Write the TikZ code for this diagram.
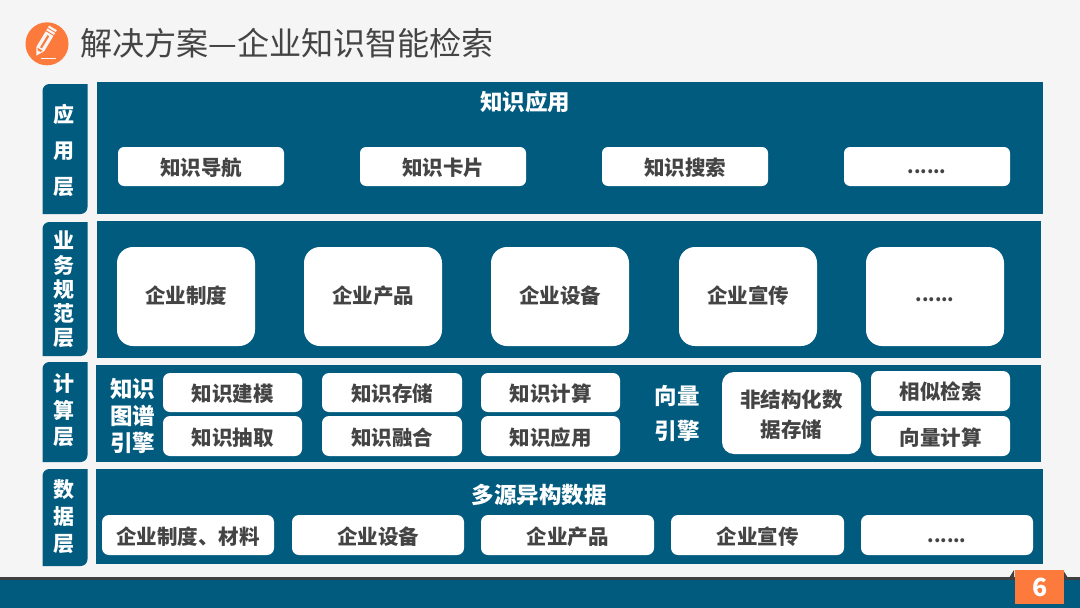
\documentclass[tikz,border=0pt]{standalone}
\usepackage{fontspec}
\setmainfont{Noto Sans CJK SC}
\definecolor{bluefill}{HTML}{005B7F}
\definecolor{pagebg}{HTML}{F5F5F6}
\definecolor{inkdark}{HTML}{444444}
\definecolor{orangefill}{HTML}{FB7A3C}
\definecolor{shadowdark}{HTML}{3F3F3F}
\newcommand{\sidetab}[4]{\fill[bluefill] (#1,#4) -- (#1,#2+7) .. controls (#1,#2+3) and (#1+3,#2) .. (#1+7,#2) -- (#3,#2) -- (#3,#4-7) .. controls (#3,#4-3) and (#3-3,#4) .. (#3-7,#4) -- cycle;}
\newcommand{\dotrow}{{\fontsize{18.5}{20}\selectfont ......}}
\tikzset{
  x=1pt,y=-1pt,
  panel/.style={fill=bluefill,draw=none},
  wbox/.style n args={3}{fill=white,draw=none,rounded corners=#3pt,minimum width=#1pt,minimum height=#2pt,inner sep=0pt,text=inkdark,font=\fontsize{20.5}{24}\selectfont\bfseries},
  smallbox/.style n args={2}{wbox={#1}{#2}{7}},
  drop/.style={text height=#1pt,text depth=8pt},
  lefttext/.style={text=white,font=\fontsize{22.5}{26}\selectfont\bfseries,inner sep=0pt},
  tablabel/.style={text=white,font=\fontsize{21}{24}\selectfont\bfseries,inner sep=0pt},
}
\begin{document}
\begin{tikzpicture}
\useasboundingbox (0,0) rectangle (1080,608);
\fill[pagebg] (0,0) rectangle (1080,608);
% footer
\fill[shadowdark] (0,577) rectangle (1080,581);
\fill[bluefill] (0,580) rectangle (1080,608);
\fill[shadowdark] (1009,578) -- (1014,570) -- (1014,578) -- cycle;
\fill[shadowdark] (1068,578) -- (1063,570) -- (1063,578) -- cycle;
\node[fill=orangefill,minimum width=49pt,minimum height=34pt,inner sep=0pt,text=white,font=\fontsize{25}{28}\selectfont\bfseries,drop=26] (pagenum) at (1039,587) {\hspace{2pt}6};
% title icon
\fill[orangefill] (47,43.8) circle[radius=21.5pt];
\begin{scope}[shift={(44.5,42)},rotate=-31]
  \fill[pagebg] (-4.5,-16.5) rectangle (4.5,-14.3);
  \fill[pagebg] (-4.5,-13.2) rectangle (4.5,-11);
  \fill[pagebg,even odd rule] (-4.5,-9.8) -- (4.5,-9.8) -- (4.5,8) -- (0,16) -- (-4.5,8) -- cycle
     (-1.2,-7.6) rectangle (1.2,7);
  \fill[orangefill] (-2.8,8.5) -- (2.8,8.5) -- (1.6,10.6) -- (-1.6,10.6) -- cycle;
\end{scope}
\fill[pagebg] (41,57.5) rectangle (56,58.6);
\node[anchor=west,inner sep=0pt,text=inkdark,font=\fontsize{32.1}{36}\selectfont] (title) at (80,43.5) {解决方案—企业知识智能检索};
% side tabs
\sidetab{42.5}{84}{87.5}{214}
\sidetab{42.5}{222}{87.5}{356}
\sidetab{42.5}{362}{87.5}{462}
\sidetab{42.5}{469}{87.5}{566}
\node[tablabel] (t1a) at (63.5,114.5) {应};
\node[tablabel] (t1b) at (63.5,151) {用};
\node[tablabel] (t1c) at (63.5,187.5) {层};
\node[tablabel] (t2a) at (63.5,240) {业};
\node[tablabel] (t2b) at (63.5,265) {务};
\node[tablabel] (t2c) at (63.5,289.5) {规};
\node[tablabel] (t2d) at (63.5,314) {范};
\node[tablabel] (t2e) at (63.5,338) {层};
\node[tablabel] (t3a) at (64,383.5) {计};
\node[tablabel] (t3b) at (64,410.5) {算};
\node[tablabel] (t3c) at (64,437.5) {层};
\node[tablabel] (t4a) at (64,490) {数};
\node[tablabel] (t4b) at (64,517) {据};
\node[tablabel] (t4c) at (64,544) {层};
% panels
\fill[panel] (97,82) rectangle (1043,214);
\fill[panel] (97,221) rectangle (1041,358);
\fill[panel] (95.5,365) rectangle (1041,462);
\fill[panel] (95.5,469) rectangle (1043,564);
% application layer
\node[lefttext] (apphead) at (525,101.5) {知识应用};
\node[wbox={166}{39}{6},drop=26] (a1) at (201,166.5) {知识导航};
\node[wbox={166}{39}{6},drop=26] (a2) at (443,166.5) {知识卡片};
\node[wbox={166}{39}{6},drop=26] (a3) at (685,166.5) {知识搜索};
\node[wbox={166}{39}{6},drop=22] (a4) at (927,166.5) {\dotrow};
% business layer
\node[wbox={138}{99}{16},drop=22] (b1) at (186,296.5) {企业制度};
\node[wbox={138}{99}{16},drop=22] (b2) at (373,296.5) {企业产品};
\node[wbox={138}{99}{16},drop=22] (b3) at (560,296.5) {企业设备};
\node[wbox={138}{99}{16},drop=22] (b4) at (748,296.5) {企业宣传};
\node[wbox={138}{99}{16},drop=18] (b5) at (935,296.5) {\dotrow};
% compute layer
\node[lefttext] (k1) at (132.5,388.5) {知识};
\node[lefttext] (k2) at (132.5,416) {图谱};
\node[lefttext] (k3) at (132.5,443) {引擎};
\node[smallbox={139}{39},drop=26] (c1) at (232.5,392.5) {知识建模};
\node[smallbox={139}{40},drop=26] (c2) at (232.5,436) {知识抽取};
\node[smallbox={140}{39},drop=26] (c3) at (392,392.5) {知识存储};
\node[smallbox={140}{40},drop=26] (c4) at (392,436) {知识融合};
\node[smallbox={139}{39},drop=26] (c5) at (550.5,392.5) {知识计算};
\node[smallbox={139}{40},drop=26] (c6) at (550.5,436) {知识应用};
\node[lefttext] (v1) at (677,396) {向量};
\node[lefttext] (v2) at (677,431) {引擎};
\node[wbox={139}{82}{12},align=center] (c7) at (791.5,413) {\shortstack{\rule{0pt}{21pt}非结构化数\\[8pt]据存储}};
\node[smallbox={139}{40},drop=24] (c8) at (940.5,391) {相似检索};
\node[smallbox={139}{40},drop=26] (c9) at (940.5,436) {向量计算};
% data layer
\node[lefttext] (dhead) at (539,495) {多源异构数据};
\node[smallbox={172}{40},drop=26] (d1) at (188,535) {企业制度、材料};
\node[smallbox={172}{40},drop=26] (d2) at (378,535) {企业设备};
\node[smallbox={173}{40},drop=26] (d3) at (567.5,535) {企业产品};
\node[smallbox={173}{40},drop=26] (d4) at (757.5,535) {企业宣传};
\node[smallbox={172}{40},drop=22] (d5) at (947,535) {\dotrow};
\end{tikzpicture}
\end{document}
